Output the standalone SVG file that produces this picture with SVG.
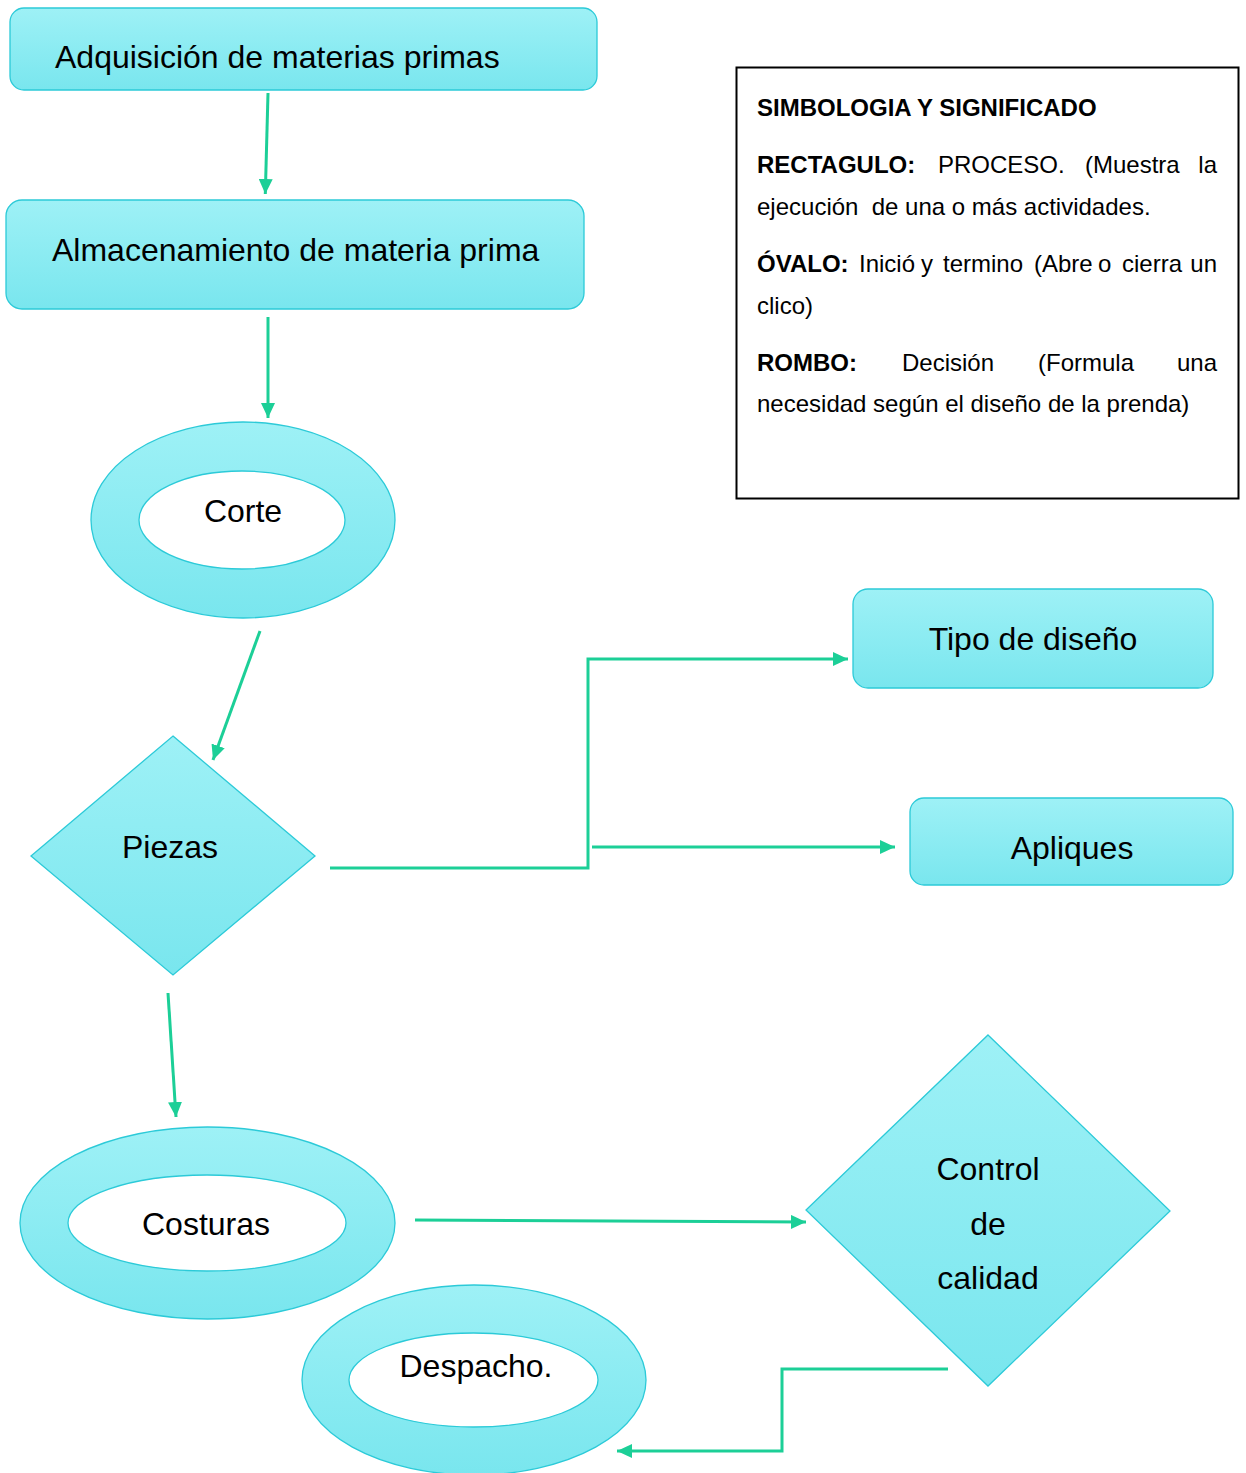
<svg xmlns="http://www.w3.org/2000/svg" width="1246" height="1473" viewBox="0 0 1246 1473">
<defs>
<linearGradient id="g" x1="0" y1="0" x2="0" y2="1">
<stop offset="0" stop-color="#9ef1f6"/>
<stop offset="1" stop-color="#79e6ee"/>
</linearGradient>
<marker id="ah" markerUnits="userSpaceOnUse" markerWidth="16" markerHeight="14" refX="15" refY="7" orient="auto">
<path d="M0,0 L15,7 L0,14 z" fill="#1ccf97"/>
</marker>
<style>
.shape{fill:url(#g);stroke:#2ccad8;stroke-width:1.3}
.hole{fill:#ffffff;stroke:#2ccad8;stroke-width:1.3}
.lbl{font-family:"Liberation Sans",Arial,sans-serif;font-size:32px;fill:#000}
.mid{text-anchor:middle}
.leg{font-family:"Liberation Sans",Arial,sans-serif;font-size:24px;fill:#000}
.b{font-weight:bold}
.conn{fill:none;stroke:#1ccf97;stroke-width:3}
</style>
</defs>
<rect width="1246" height="1473" fill="#ffffff"/>

<g id="n-adquisicion">
<rect class="shape" x="10" y="8" width="587" height="82" rx="14"/>
<text class="lbl" x="55" y="68">Adquisición de materias primas</text>
</g>
<g id="n-almacenamiento">
<rect class="shape" x="6" y="200" width="578" height="109" rx="16"/>
<text class="lbl" x="52" y="261">Almacenamiento de materia prima</text>
</g>
<g id="n-corte">
<ellipse class="shape" cx="243" cy="520" rx="152" ry="98"/>
<ellipse class="hole" cx="242" cy="520" rx="103" ry="49"/>
<text class="lbl mid" x="243" y="522">Corte</text>
</g>
<g id="n-piezas">
<polygon class="shape" points="173,736 315,856 173,975 31,856"/>
<text class="lbl mid" x="170" y="858">Piezas</text>
</g>
<g id="n-tipo">
<rect class="shape" x="853" y="589" width="360" height="99" rx="15"/>
<text class="lbl mid" x="1033" y="650">Tipo de diseño</text>
</g>
<g id="n-apliques">
<rect class="shape" x="910" y="798" width="323" height="87" rx="14"/>
<text class="lbl mid" x="1072" y="859">Apliques</text>
</g>
<g id="n-costuras">
<ellipse class="shape" cx="207.5" cy="1223" rx="187.5" ry="96"/>
<ellipse class="hole" cx="207" cy="1223" rx="139" ry="48"/>
<text class="lbl mid" x="206" y="1235">Costuras</text>
</g>
<g id="n-control">
<polygon class="shape" points="988,1035 1170,1211 988,1386 806,1210"/>
<text class="lbl mid" x="988" y="1180">Control</text>
<text class="lbl mid" x="988" y="1235">de</text>
<text class="lbl mid" x="988" y="1289">calidad</text>
</g>
<g id="n-despacho">
<ellipse class="shape" cx="474" cy="1380" rx="172" ry="95"/>
<ellipse class="hole" cx="473.5" cy="1380" rx="124.5" ry="47"/>
<text class="lbl mid" x="476" y="1377">Despacho.</text>
</g>

<g id="legend">
<rect x="736.5" y="67.5" width="502" height="431" fill="none" stroke="#000" stroke-width="2"/>
<text class="leg b" x="757" y="116">SIMBOLOGIA Y SIGNIFICADO</text>
<text class="leg b" x="757" y="173">RECTAGULO:</text>
<text class="leg" x="938" y="173">PROCESO.</text>
<text class="leg" x="1085" y="173">(Muestra</text>
<text class="leg" x="1217" y="173" text-anchor="end">la</text>
<text class="leg" x="757" y="215" xml:space="preserve">ejecución  de una o más actividades.</text>
<text class="leg b" x="757" y="272">ÓVALO:</text>
<text class="leg" x="859" y="272">Inició</text>
<text class="leg" x="921" y="272">y</text>
<text class="leg" x="943" y="272">termino</text>
<text class="leg" x="1034" y="272">(Abre</text>
<text class="leg" x="1098" y="272">o</text>
<text class="leg" x="1122" y="272">cierra</text>
<text class="leg" x="1217" y="272" text-anchor="end">un</text>
<text class="leg" x="757" y="314">clico)</text>
<text class="leg b" x="757" y="371">ROMBO:</text>
<text class="leg" x="902" y="371">Decisión</text>
<text class="leg" x="1038" y="371">(Formula</text>
<text class="leg" x="1217" y="371" text-anchor="end">una</text>
<text class="leg" x="757" y="412">necesidad según el diseño de la prenda)</text>
</g>

<g id="connectors">
<path class="conn" d="M268,93 L265.3,194" marker-end="url(#ah)"/>
<path class="conn" d="M268,317 L268,418" marker-end="url(#ah)"/>
<path class="conn" d="M260,631 L213,760" marker-end="url(#ah)"/>
<path class="conn" d="M330,868 L588,868 L588,659 L848,659" marker-end="url(#ah)"/>
<path class="conn" d="M592,847 L895,847" marker-end="url(#ah)"/>
<path class="conn" d="M168,993 L176,1117" marker-end="url(#ah)"/>
<path class="conn" d="M415,1220 L806,1222" marker-end="url(#ah)"/>
<path class="conn" d="M948,1369 L782,1369 L782,1451 L617,1451" marker-end="url(#ah)"/>
</g>
</svg>
